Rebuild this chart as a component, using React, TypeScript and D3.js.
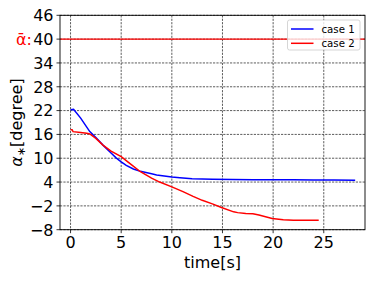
import React from 'react';
import * as d3 from 'd3';

// case 1 (blue)
const case1Time = [0, 0.3, 1, 1.9, 2.5, 3.2, 4, 4.5, 5, 5.5, 6.2, 6.9, 8, 8.5, 10, 10.8, 12, 14, 16, 18, 20, 22, 24, 26, 28.1];
const case1Val = [22.2, 22.3, 20.1, 16.7, 15.2, 13.3, 11.3, 10.1, 9.1, 8.2, 7.3, 6.7, 6.1, 5.8, 5.3, 5.1, 4.85, 4.7, 4.65, 4.6, 4.6, 4.55, 4.5, 4.5, 4.45];

// case 2 (red)
const case2Time = [0, 0.15, 0.25, 1, 1.6, 1.9, 2.5, 3.2, 4, 5, 6, 6.9, 8, 8.8, 10, 11.1, 12.1, 13, 14, 14.9, 16.1, 16.5, 17.3, 18, 18.6, 19.9, 21, 22, 23, 24.5];
const case2Val = [17.2, 17.2, 16.7, 16.5, 16.3, 16.1, 15.0, 13.3, 11.8, 10.4, 8.4, 6.6, 5.0, 4.0, 2.8, 1.6, 0.4, -0.6, -1.5, -2.4, -3.5, -3.7, -3.9, -4.0, -4.3, -5.2, -5.5, -5.6, -5.6, -5.6];

const xTicks = [0, 5, 10, 15, 20, 25];
const yTicks = [-8, -2, 4, 10, 16, 22, 28, 34, 40, 46];
const alphaBar = 40;

const seriesNames = ['case 1', 'case 2'];
const seriesColors = ['#0000ff', '#ff0000'];

const W = 374;
const H = 281;
const margin = { top: 15.3, right: 9, bottom: 51.3, left: 60 };

export default function App() {
  const x = d3.scaleLinear().domain([-1.04, 29.07]).range([margin.left, W - margin.right]);
  const y = d3.scaleLinear().domain([-8, 46]).range([H - margin.bottom, margin.top]);

  const line = d3.line<[number, number]>()
    .x(d => x(d[0]))
    .y(d => y(d[1]));

  const s1 = case1Time.map((t, i) => [t, case1Val[i]] as [number, number]);
  const s2 = case2Time.map((t, i) => [t, case2Val[i]] as [number, number]);

  const [x0, x1] = x.range();
  const [y0, y1] = y.range();
  const font = "'DejaVu Sans', sans-serif";

  return (
    <svg width={W} height={H} style={{ position: 'absolute', left: 0, top: 0, background: '#fff' }} fontFamily={font}>
      {/* grille */}
      {xTicks.map(t => (
        <line key={'gx' + t} x1={x(t)} x2={x(t)} y1={y1} y2={y0} stroke="#333" strokeWidth={0.8} strokeDasharray="2.2,1.2" />
      ))}
      {yTicks.map(t => (
        <line key={'gy' + t} x1={x0} x2={x1} y1={y(t)} y2={y(t)} stroke="#333" strokeWidth={0.8} strokeDasharray="2.2,1.2" />
      ))}

      {/* ligne alpha barre */}
      <line x1={x0} x2={x1} y1={y(alphaBar)} y2={y(alphaBar)} stroke="#ff0000" strokeWidth={1.1} />

      {/* séries */}
      <path d={line(s1) || ''} fill="none" stroke={seriesColors[0]} strokeWidth={1.5} />
      <path d={line(s2) || ''} fill="none" stroke={seriesColors[1]} strokeWidth={1.5} />

      {/* cadre */}
      <rect x={x0} y={y1} width={x1 - x0} height={y0 - y1} fill="none" stroke="#000" strokeWidth={0.9} />

      {/* axe x */}
      {xTicks.map(t => (
        <g key={'tx' + t}>
          <line x1={x(t)} x2={x(t)} y1={y0} y2={y0 + 3.5} stroke="#000" strokeWidth={0.8} />
          <text x={x(t)} y={y0 + 18} textAnchor="middle" fontSize={16} fill="#000">{t}</text>
        </g>
      ))}
      <text x={(x0 + x1) / 2} y={268} textAnchor="middle" fontSize={16} fill="#000">time[s]</text>

      {/* axe y */}
      {yTicks.map(t => (
        <g key={'ty' + t}>
          <line x1={x0} x2={x0 - 3.5} y1={y(t)} y2={y(t)} stroke="#000" strokeWidth={0.8} />
          <text x={x0 - 6.5} y={y(t) + 5.8} textAnchor="end" fontSize={16} fill="#000">
            {t < 0 ? '\u2212' + Math.abs(t) : t}
          </text>
        </g>
      ))}
      <text x={16} y={y(alphaBar) + 5.8} fontSize={16} fill="#ff0000">ᾱ:</text>
      <text transform={`translate(22,${(y0 + y1) / 2}) rotate(-90)`} textAnchor="middle" fontSize={16} fill="#000">
        <tspan fontStyle="italic">α</tspan>
        <tspan fontSize={11} dy={3}>∗</tspan>
        <tspan dy={-3}>[degree]</tspan>
      </text>

      {/* légende */}
      <rect x={287.5} y={20} width={72.5} height={30} rx={2} fill="#fff" fillOpacity={0.8} stroke="#ccc" strokeWidth={0.8} />
      {seriesNames.map((n, i) => (
        <g key={n}>
          <line x1={291} x2={313.5} y1={29 + i * 14.3} y2={29 + i * 14.3} stroke={seriesColors[i]} strokeWidth={1.5} />
          <text x={321.5} y={29 + i * 14.3 + 3.6} fontSize={10.2} fill="#000">{n}</text>
        </g>
      ))}
    </svg>
  );
}
